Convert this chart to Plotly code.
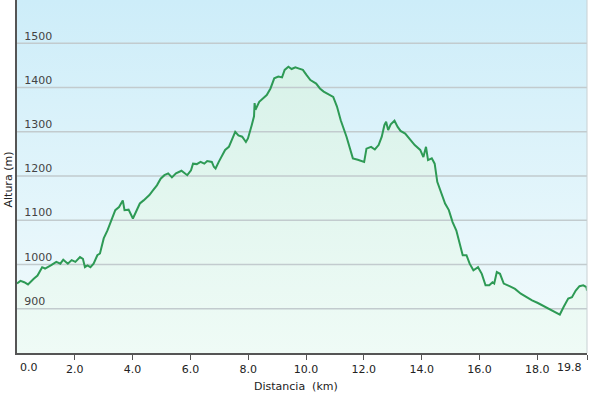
import plotly.graph_objects as go

dist_km = [0.00, 0.12, 0.25, 0.38, 0.58, 0.71, 0.87, 0.97, 1.17, 1.36, 1.50, 1.60, 1.76, 1.89, 2.02,
           2.18, 2.28, 2.35, 2.44, 2.54, 2.65, 2.78, 2.87, 3.00, 3.13, 3.27, 3.40, 3.53, 3.66, 3.72,
           3.86, 4.01, 4.12, 4.25, 4.38, 4.58, 4.71, 4.84, 4.97, 5.10, 5.23, 5.36, 5.50, 5.69, 5.89,
           6.02, 6.09, 6.22, 6.35, 6.48, 6.58, 6.74, 6.81, 6.87, 6.98, 7.07, 7.20, 7.33, 7.46, 7.55,
           7.66, 7.79, 7.92, 7.99, 8.12, 8.20, 8.22, 8.25, 8.38, 8.51, 8.64, 8.77, 8.90, 9.04, 9.17,
           9.26, 9.39, 9.50, 9.63, 9.76, 9.89, 10.02, 10.15, 10.35, 10.48, 10.61, 10.74, 10.94, 11.07,
           11.20, 11.40, 11.53, 11.62, 11.79, 12.01, 12.09, 12.25, 12.38, 12.51, 12.62, 12.71, 12.77,
           12.84, 12.93, 13.06, 13.17, 13.27, 13.43, 13.56, 13.76, 13.95, 14.06, 14.15, 14.22, 14.35,
           14.45, 14.54, 14.68, 14.81, 14.94, 15.07, 15.20, 15.33, 15.42, 15.55, 15.66, 15.79, 15.95,
           16.08, 16.21, 16.34, 16.45, 16.51, 16.60, 16.71, 16.84, 17.04, 17.23, 17.43, 17.63, 17.82,
           18.02, 18.28, 18.54, 18.67, 18.78, 18.91, 19.07, 19.20, 19.33, 19.46, 19.59, 19.70, 19.72]

altura_m = [957, 963, 960, 955, 968, 975, 994, 991, 998, 1006, 1002, 1011, 1002, 1010, 1006,
            1017, 1013, 994, 998, 994, 1002, 1021, 1025, 1059, 1077, 1100, 1123, 1130, 1145, 1123,
            1124, 1104, 1119, 1138, 1145, 1157, 1168, 1179, 1194, 1202, 1206, 1197, 1206, 1212, 1202,
            1213, 1228, 1227, 1232, 1228, 1234, 1232, 1221, 1217, 1232, 1243, 1259, 1266, 1285, 1300,
            1292, 1289, 1277, 1285, 1315, 1335, 1365, 1350, 1368, 1375, 1383, 1398, 1421, 1425, 1423,
            1440, 1447, 1442, 1446, 1443, 1440, 1428, 1417, 1409, 1398, 1391, 1387, 1379, 1357,
            1326, 1289, 1259, 1240, 1237, 1232, 1262, 1266, 1260, 1270, 1289, 1315, 1323,
            1304, 1317, 1325, 1311, 1302, 1296, 1285, 1270, 1259, 1243, 1266, 1236, 1240,
            1228, 1187, 1160, 1138, 1123, 1096, 1077, 1047, 1021, 1021, 1002, 987, 994,
            979, 953, 953, 960, 957, 983, 979, 957, 951, 945, 934, 926, 919,
            913, 904, 895, 889, 887, 904, 923, 926, 941, 951, 953, 949, 941]

x_tick_vals = [2, 4, 6, 8, 10, 12, 14, 16, 18]
x_tick_text = ["2.0", "4.0", "6.0", "8.0", "10.0", "12.0", "14.0", "16.0", "18.0"]
y_tick_vals = [900, 1000, 1100, 1200, 1300, 1400, 1500]

x_max = 19.72
y_min, y_max = 800, 1598
font_family = "DejaVu Sans"

fig = go.Figure()

# background gradient band
fig.add_trace(go.Scatter(
    x=[0, x_max], y=[y_max, y_max], mode="lines", line=dict(width=0),
    fill="tozeroy",
    fillgradient=dict(type="vertical", start=y_min, stop=y_max,
                      colorscale=[[0, "#f3fbfc"], [1, "#cdedf9"]]),
    hoverinfo="skip", showlegend=False))

# area under the profile
fig.add_trace(go.Scatter(
    x=dist_km, y=altura_m, mode="lines", line=dict(width=0),
    fill="tozeroy",
    fillgradient=dict(type="vertical", start=y_min, stop=1450,
                      colorscale=[[0, "#effbf6"], [1, "#d8f2e9"]]),
    hoverinfo="skip", showlegend=False))

# gridlines drawn above the fills, below the profile line
grid_x, grid_y = [], []
for v in y_tick_vals:
    grid_x += [0, x_max, None]
    grid_y += [v, v, None]
fig.add_trace(go.Scatter(
    x=grid_x, y=grid_y, mode="lines", line=dict(color="#c2cbce", width=1.5),
    hoverinfo="skip", showlegend=False))

# elevation profile line
fig.add_trace(go.Scatter(
    x=dist_km, y=altura_m, mode="lines",
    line=dict(color="#2e9a55", width=2),
    showlegend=False))

fig.update_layout(
    width=594, height=399,
    margin=dict(l=17, r=7, t=0, b=46),
    paper_bgcolor="white", plot_bgcolor="white",
    font=dict(family=font_family, size=11, color="#222222"),
    xaxis=dict(range=[0, x_max], tickvals=[0] + x_tick_vals + [x_max],
               ticktext=[""] + x_tick_text + [""],
               ticks="outside", ticklen=5, tickcolor="#555555",
               showgrid=False, zeroline=False, automargin=False,
               showline=True, linecolor="#555555", linewidth=1.5, layer="above traces"),
    yaxis=dict(range=[y_min, y_max], tickvals=y_tick_vals,
               ticklabelposition="inside top", ticklabelstandoff=6,
               showgrid=False, zeroline=False, ticks="", automargin=False,
               showline=True, linecolor="#555555", linewidth=1.5, layer="above traces"),
    annotations=[
        dict(text="0.0", x=0, y=0, xref="x", yref="paper", xanchor="left", yanchor="top",
             xshift=1, yshift=-6, showarrow=False),
        dict(text="19.8", x=x_max, y=0, xref="x", yref="paper", xanchor="right", yanchor="top",
             xshift=-3, yshift=-6, showarrow=False),
        dict(text="Distancia&nbsp;&nbsp;(km)", x=0.49, y=0, xref="paper", yref="paper",
             xanchor="center", yanchor="top", yshift=-25, showarrow=False),
        dict(text="Altura (m)", x=0, y=0.5, xref="paper", yref="paper", textangle=-90,
             xanchor="center", yanchor="middle", xshift=-9, yshift=-3, showarrow=False),
    ],
    shapes=[dict(type="line", xref="paper", yref="paper", x0=1, x1=1, y0=0, y1=1,
                 line=dict(color="#c8d0d3", width=1))],
)

fig.write_html("out.html", config={"displayModeBar": False},
               post_script="document.body.style.margin='0';")
